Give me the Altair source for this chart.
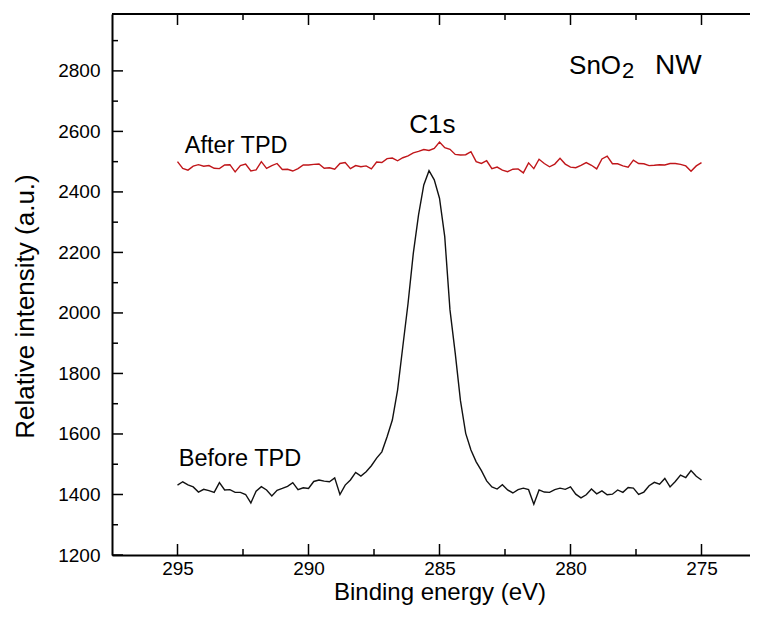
import altair as alt
import pandas as pd

# Binding energy grid (eV)
energy = [
    295.0, 294.8, 294.6, 294.4, 294.2, 294.0, 293.8, 293.6, 293.4, 293.2,
    293.0, 292.8, 292.6, 292.4, 292.2, 292.0, 291.8, 291.6, 291.4, 291.2,
    291.0, 290.8, 290.6, 290.4, 290.2, 290.0, 289.8, 289.6, 289.4, 289.2,
    289.0, 288.8, 288.6, 288.4, 288.2, 288.0, 287.8, 287.6, 287.4, 287.2,
    287.0, 286.8, 286.6, 286.4, 286.2, 286.0, 285.8, 285.6, 285.4, 285.2,
    285.0, 284.8, 284.6, 284.4, 284.2, 284.0, 283.8, 283.6, 283.4, 283.2,
    283.0, 282.8, 282.6, 282.4, 282.2, 282.0, 281.8, 281.6, 281.4, 281.2,
    281.0, 280.8, 280.6, 280.4, 280.2, 280.0, 279.8, 279.6, 279.4, 279.2,
    279.0, 278.8, 278.6, 278.4, 278.2, 278.0, 277.8, 277.6, 277.4, 277.2,
    277.0, 276.8, 276.6, 276.4, 276.2, 276.0, 275.8, 275.6, 275.4, 275.2,
    275.0,
]

after_tpd = [
    2500, 2478, 2472, 2485, 2490, 2485, 2487, 2478, 2477, 2489,
    2490, 2466, 2487, 2492, 2469, 2473, 2500, 2478, 2487, 2494,
    2474, 2475, 2469, 2477, 2489, 2489, 2491, 2492, 2478, 2480,
    2475, 2494, 2497, 2477, 2487, 2483, 2486, 2476, 2499, 2497,
    2510, 2512, 2503, 2513, 2519, 2529, 2534, 2540, 2537, 2544,
    2565, 2546, 2541, 2524, 2522, 2523, 2533, 2500, 2494, 2503,
    2477, 2482, 2472, 2467, 2475, 2476, 2463, 2496, 2477, 2508,
    2494, 2483, 2492, 2511, 2492, 2482, 2480, 2488, 2497, 2488,
    2476, 2509, 2518, 2493, 2493, 2486, 2482, 2505, 2494, 2493,
    2487, 2488, 2490, 2489, 2494, 2494, 2491, 2486, 2468, 2486,
    2497,
]

before_tpd = [
    1431, 1442, 1432, 1425, 1408, 1417, 1413, 1407, 1439, 1415,
    1416, 1407, 1407, 1400, 1372, 1411, 1426, 1415, 1395, 1414,
    1420, 1427, 1439, 1416, 1422, 1420, 1443, 1448, 1444, 1442,
    1455, 1400, 1431, 1448, 1473, 1461, 1475, 1495, 1520, 1541,
    1591, 1646, 1745, 1889, 2032, 2197, 2324, 2423, 2470, 2440,
    2379, 2252, 2010, 1867, 1710, 1602, 1547, 1508, 1479, 1445,
    1425, 1418, 1432, 1415, 1405, 1416, 1421, 1416, 1368, 1415,
    1408, 1407, 1416, 1421, 1417, 1425, 1401, 1389, 1399, 1418,
    1402, 1412, 1399, 1401, 1415, 1407, 1423, 1421, 1400, 1408,
    1429, 1440, 1434, 1453, 1425, 1443, 1464, 1456, 1479, 1460,
    1448,
]

x_major = [295, 290, 285, 280, 275]
x_minor = [292.5, 287.5, 282.5, 277.5]
y_major = [1200, 1400, 1600, 1800, 2000, 2200, 2400, 2600, 2800]
y_minor = [1300, 1500, 1700, 1900, 2100, 2300, 2500, 2700, 2900]

series_names = ["After TPD", "Before TPD"]
series_colors = ["#c0161a", "#111111"]

label_texts = ["After TPD", "Before TPD"]
label_x = [294.72, 294.95]
label_y = [2529, 1494]
peak_text = ["C1s"]
peak_x = [285.27]
peak_y = [2595]
sample_x = [278.07]
sample_y = [2790]

FONT = "Liberation Sans"
W, H = 638, 541
XR = 655

rows = []
for e, a, b in zip(energy, after_tpd, before_tpd):
    rows.append({"E": e, "I": a, "s": series_names[0]})
    rows.append({"E": e, "I": b, "s": series_names[1]})
df = pd.DataFrame(rows)

xs = alt.Scale(domain=[297.5, 272.5], range=[0, XR], nice=False, zero=False)
ys = alt.Scale(domain=[1200, 2988], nice=False, zero=False)

xaxis = alt.Axis(
    values=x_major, format="d", title="Binding energy (eV)",
    ticks=False, tickSize=0, grid=False,
    labelFontSize=19, labelPadding=4, labelColor="black", labelFont=FONT,
    domainWidth=2, domainColor="black",
    titleFontSize=24, titleFontWeight="normal", titleColor="black", titleFont=FONT,
    titleBaseline="alphabetic", titleY=44)
yaxis = alt.Axis(
    values=y_major, format="d", title="Relative intensity (a.u.)",
    ticks=False, tickSize=0, grid=False,
    labelFontSize=19, labelPadding=12, labelColor="black", labelFont=FONT,
    domainWidth=2, domainColor="black",
    titleFontSize=26, titleFontWeight="normal", titleColor="black", titleFont=FONT,
    titleBaseline="alphabetic", titleAngle=270, titleAlign="center",
    titleX=-79, titleY=292)

X = alt.X("E:Q", scale=xs, axis=xaxis)
Y = alt.Y("I:Q", scale=ys, axis=yaxis)

lines = alt.Chart(df).mark_line(strokeWidth=1.4).encode(
    x=X, y=Y,
    color=alt.Color("s:N", scale=alt.Scale(domain=series_names, range=series_colors), legend=None),
    detail="s:N",
)

xmaj = pd.DataFrame({"E": x_major})
xmin = pd.DataFrame({"E": x_minor})
ymaj = pd.DataFrame({"I": y_major})
ymin = pd.DataFrame({"I": y_minor})

def xrule(d, y1, y2):
    return alt.Chart(d).mark_rule(strokeWidth=1.5, color="black").encode(
        x=X, y=alt.value(y1), y2=alt.value(y2))

def yrule(d, x1, x2):
    return alt.Chart(d).mark_rule(strokeWidth=1.5, color="black").encode(
        y=Y, x=alt.value(x1), x2=alt.value(x2))

ticks = [
    xrule(xmaj, H, H - 11), xrule(xmin, H, H - 6),
    xrule(xmaj, 0, 11), xrule(xmin, 0, 6),
    yrule(ymaj, 0, 11), yrule(ymin, 0, 6),
]

top_border = alt.Chart(pd.DataFrame({"a": [0]})).mark_rule(strokeWidth=2, color="black").encode(
    x=alt.value(0), x2=alt.value(XR), y=alt.value(0))

labels = alt.Chart(pd.DataFrame({"t": label_texts, "E": label_x, "I": label_y})).mark_text(
    align="left", baseline="alphabetic", font=FONT, color="black", fontSize=23.5).encode(
    x=X, y=Y, text="t:N")
c1s_lab = alt.Chart(pd.DataFrame({"t": peak_text, "E": peak_x, "I": peak_y})).mark_text(
    align="center", baseline="alphabetic", font=FONT, color="black", fontSize=26).encode(
    x=X, y=Y, text="t:N")

sdf = pd.DataFrame({"E": sample_x, "I": sample_y})
def stext(txt, size, align, dx, dy):
    return alt.Chart(sdf).mark_text(
        text=txt, align=align, baseline="alphabetic", font=FONT, color="black",
        fontSize=size, dx=dx, dy=dy).encode(x=X, y=Y)

sample = [stext("SnO", 26, "right", 0, 0), stext("2", 22, "left", 1, 4),
          stext("NW", 28, "left", 34, 0)]

chart = alt.layer(lines, *ticks, top_border, labels, c1s_lab, *sample).properties(
    width=W, height=H,
    padding={"left": 104, "top": 6, "right": 0, "bottom": 50},
    autosize=alt.AutoSizeParams(type="none"),
).configure_view(stroke=None).configure(font=FONT)

chart.save("out.html", embed_options={"renderer": "svg", "actions": False})
